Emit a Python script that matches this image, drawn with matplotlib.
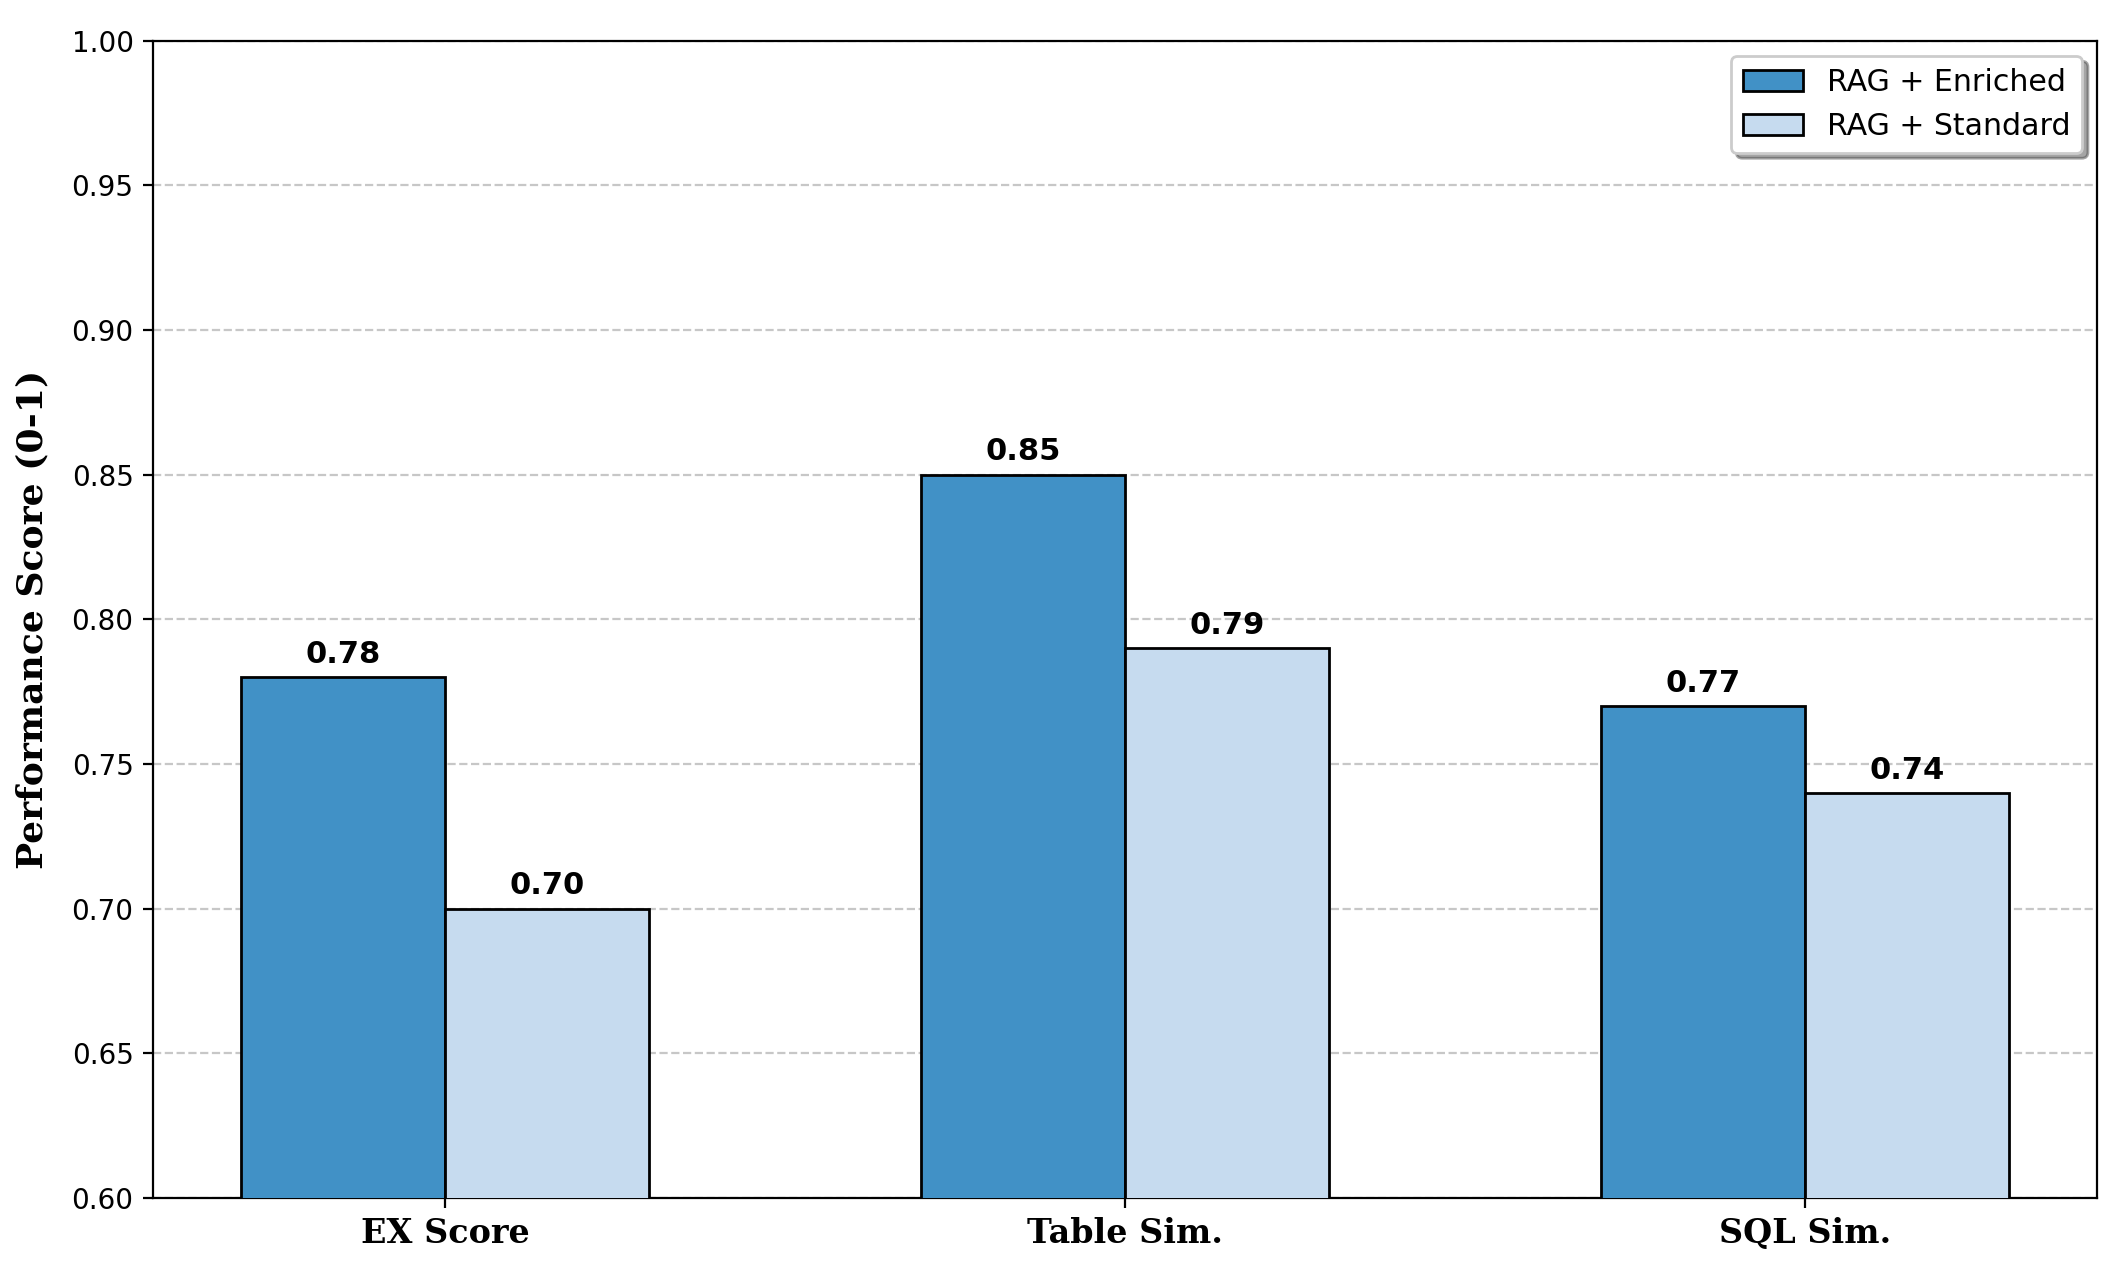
import numpy as np
import matplotlib.pyplot as plt

# 数据
metrics = ['EX Score', 'Table Sim.', 'SQL Sim.']
enriched = [0.78, 0.85, 0.77]
standard = [0.70, 0.79, 0.74]

fig = plt.figure(figsize=(10.625, 6.355), dpi=200)
ax = fig.add_axes([0.072, 0.0574, 0.915, 0.9106])

x = np.arange(len(metrics))
width = 0.3

bars1 = ax.bar(x - width/2, enriched, width, label='RAG + Enriched',
               color='#4191c6', edgecolor='black', linewidth=1, zorder=3)
bars2 = ax.bar(x + width/2, standard, width, label='RAG + Standard',
               color='#c6dbef', edgecolor='black', linewidth=1, zorder=3)

for bars in (bars1, bars2):
    for bar in bars:
        h = bar.get_height()
        ax.annotate(f'{h:.2f}', xy=(bar.get_x() + bar.get_width()/2, h),
                    xytext=(0, 3), textcoords='offset points',
                    ha='center', va='bottom', fontsize=11, fontweight='bold', zorder=4)

ax.set_ylim(0.6, 1.0)
ax.set_yticks(np.arange(0.60, 1.001, 0.05))
ax.set_ylabel('Performance Score (0-1)', fontsize=13, fontweight='bold',
              family='DejaVu Serif', labelpad=8)
ax.set_xticks(x)
ax.set_xticklabels(metrics, fontsize=12, fontweight='bold', family='DejaVu Serif')
ax.tick_params(axis='y', labelsize=10)
ax.grid(axis='y', linestyle='--', alpha=0.7, zorder=0)
ax.legend(loc='upper right', fontsize=10.8, shadow=True)

plt.savefig('out.png', dpi=200)
